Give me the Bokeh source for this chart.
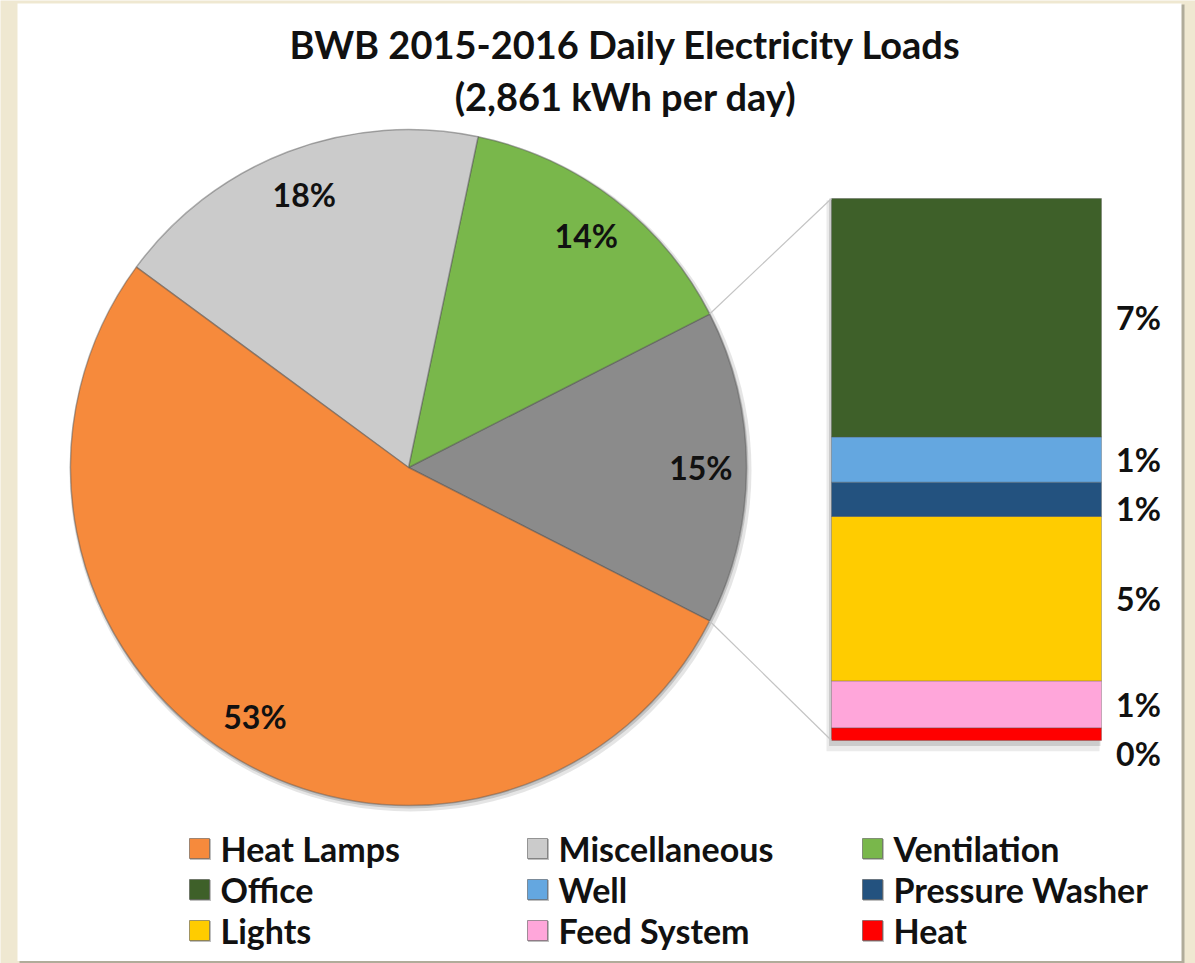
import numpy as np
from bokeh.plotting import figure
from bokeh.models import Range1d, ColumnDataSource
from bokeh.core.properties import value
from bokeh.embed import file_html
from bokeh.resources import INLINE

# ---------------- data ----------------
title_lines = ["BWB 2015-2016 Daily Electricity Loads", "(2,861 kWh per day)"]
pie_categories = ["Heat Lamps", "Miscellaneous", "Ventilation"]
pie_values = [52.6, 18.2, 14.2]            # percent of daily load
bar_categories = ["Office", "Well", "Pressure Washer", "Lights", "Feed System", "Heat"]
bar_values = [6.6, 1.25, 0.95, 4.55, 1.3, 0.35]   # top to bottom, percent
pie_colors = ["#F68A3C", "#CBCBCB", "#79B74B"]
other_color = "#8B8B8B"
bar_colors = ["#3E6029", "#64A7E0", "#23527F", "#FFCC00", "#FFA6DA", "#FF0000"]
legend_order = ["Heat Lamps", "Miscellaneous", "Ventilation",
                "Office", "Well", "Pressure Washer",
                "Lights", "Feed System", "Heat"]

# ---------------- layout ----------------
W, H = 1195, 963
FONT = "Lato"
BG = "#EFE8D1"

p = figure(width=W, height=H, output_backend="svg", toolbar_location=None,
           x_range=Range1d(0, W), y_range=Range1d(0, H),
           x_axis_type=None, y_axis_type=None, min_border=0,
           background_fill_color=BG, border_fill_color=BG, outline_line_color=None)
p.grid.visible = False

# white chart panel with shadow
p.quad(left=[19], right=[1184], bottom=[0], top=[959], fill_color="#A9A594",
       fill_alpha=0.9, line_color=None)
p.quad(left=[17], right=[1181], bottom=[2.5], top=[960], fill_color="white", line_color=None)

# ---------------- pie ----------------
cx, cy, R = 408, 496, 338
other_value = sum(bar_values)
total = sum(pie_values) + other_value
deg_per = 360.0 / total

# Other slice centred on the right, then anticlockwise: Ventilation, Misc, Heat Lamps
a0 = -other_value * deg_per / 2
starts, ends, cols, vals = [], [], [], []
starts.append(a0); ends.append(a0 + other_value * deg_per); cols.append(other_color); vals.append(other_value)
a = ends[-1]
for v, c in zip(reversed(pie_values), reversed(pie_colors)):
    starts.append(a); ends.append(a + v * deg_per); cols.append(c); vals.append(v)
    a = ends[-1]

# soft shadow
p.circle(x=[cx + 2], y=[cy - 3], radius=R + 3, fill_color="#000000", fill_alpha=0.10, line_color=None)
p.circle(x=[cx + 1], y=[cy - 2], radius=R + 1, fill_color="#000000", fill_alpha=0.15, line_color=None)

pie_src = ColumnDataSource(dict(start=np.radians(starts), end=np.radians(ends), color=cols))
p.wedge(x=cx, y=cy, radius=R, start_angle="start", end_angle="end", fill_color="color",
        line_color="#555555", line_alpha=0.45, line_width=1.5, source=pie_src)

mids = np.radians((np.array(starts) + np.array(ends)) / 2)
lr = 0.865 * R
p.text(x=cx + lr * np.cos(mids), y=cy + lr * np.sin(mids),
       text=[f"{v:.0f}%" for v in vals], text_font=value(FONT), text_font_style="bold",
       text_font_size="32px", text_color="#111111", text_align="center", text_baseline="middle")

# ---------------- bar of pie ----------------
bar_bottom_px, bar_top_px = 223, 765
scale = (bar_top_px - bar_bottom_px) / other_value
p.extra_y_ranges = {"bar": Range1d(-bar_bottom_px / scale, (H - bar_bottom_px) / scale)}
bx, bw = 966, 270

vals_bt = list(reversed(bar_values))
cols_bt = list(reversed(bar_colors))
bottoms = np.concatenate([[0], np.cumsum(vals_bt)[:-1]])
tops = np.cumsum(vals_bt)

# bar shadow
p.quad(left=[bx - bw / 2 - 5], right=[bx + bw / 2 - 2], bottom=[-0.3], top=[other_value - 0.05],
       fill_color="#000000", fill_alpha=0.08, line_color=None, y_range_name="bar")
p.quad(left=[bx - bw / 2 - 2.5], right=[bx + bw / 2 - 1], bottom=[-0.15], top=[other_value],
       fill_color="#000000", fill_alpha=0.13, line_color=None, y_range_name="bar")

bar_src = ColumnDataSource(dict(bottom=bottoms, top=tops, color=cols_bt))
p.vbar(x=bx, width=bw, bottom="bottom", top="top", fill_color="color",
       line_color="#555555", line_alpha=0.35, line_width=1, source=bar_src, y_range_name="bar")

# bar labels with simple de-overlap from top to bottom
centers = list(reversed(list((bottoms + tops) / 2)))
label_y = []
gap = 1.35
for c in centers:
    if label_y and label_y[-1] - c < gap:
        c = label_y[-1] - gap
    label_y.append(c)
p.text(x=[1138] * len(bar_values), y=label_y, text=[f"{v:.0f}%" for v in bar_values],
       text_font=value(FONT), text_font_style="bold", text_font_size="32px",
       text_color="#111111", text_align="center", text_baseline="middle", y_range_name="bar")

# connector lines from the Other slice edges to the bar corners
pe1 = np.radians(ends[0]); pe0 = np.radians(starts[0])
bar_left = bx - bw / 2
p.segment(x0=[cx + R * np.cos(pe1)], y0=[cy + R * np.sin(pe1)], x1=[bar_left], y1=[bar_top_px],
          line_color="#C4C4C4", line_width=1.2)
p.segment(x0=[cx + R * np.cos(pe0)], y0=[cy + R * np.sin(pe0)], x1=[bar_left], y1=[bar_bottom_px],
          line_color="#C4C4C4", line_width=1.2)

# ---------------- title ----------------
p.text(x=[625, 625], y=[920, 868], text=title_lines, text_font=value(FONT),
       text_font_style="bold", text_font_size="38px", text_color="#111111",
       text_align="center", text_baseline="middle")

# ---------------- legend ----------------
color_of = dict(zip(pie_categories, pie_colors))
color_of.update(dict(zip(bar_categories, bar_colors)))
col_x = [199, 537, 872]
row_y = [115, 74, 33]
lx, ly, lc, lt = [], [], [], []
for i, name in enumerate(legend_order):
    lx.append(col_x[i % 3]); ly.append(row_y[i // 3]); lc.append(color_of[name]); lt.append(name)
p.rect(x=[x + 1 for x in lx], y=[y - 1 for y in ly], width=21, height=21, fill_color="#000000",
       fill_alpha=0.25, line_color=None)
p.rect(x=lx, y=ly, width=20, height=20, fill_color=lc, line_color="#444444", line_alpha=0.5)
p.text(x=[x + 21 for x in lx], y=ly, text=lt, text_font=value(FONT), text_font_style="bold",
       text_font_size="34px", text_color="#111111", text_align="left", text_baseline="middle")

html = file_html(p, INLINE)
html = html.replace("<body>", f'<body style="background-color:{BG};">', 1)
open("out.html", "w").write(html)
